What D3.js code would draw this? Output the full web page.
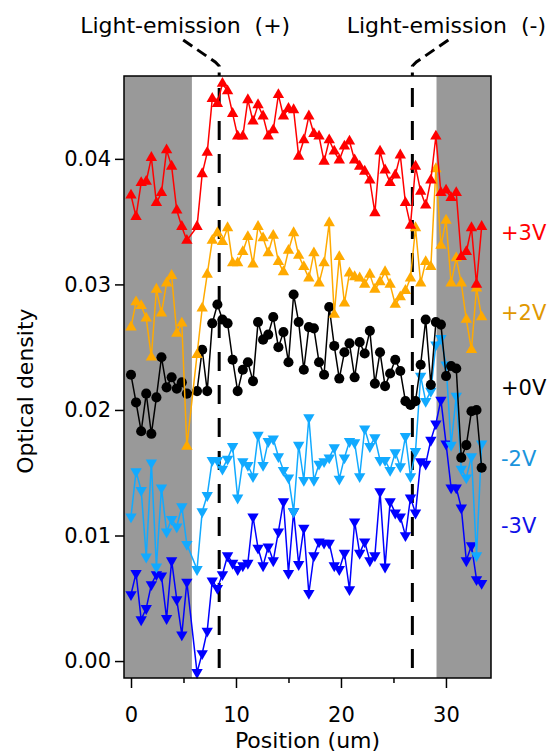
<!DOCTYPE html>
<meta charset="utf-8">
<style>
body { margin: 0; background: #fff; }
text { font-family: "DejaVu Sans", sans-serif; }
.line { fill: none; stroke-width: 1.5px; }
</style>
<body>
<div id="chart"></div>
<script src="https://d3js.org/d3.v7.min.js"></script>
<script>
// positions (um) of the samples (one sample missing at ~5.8 um)
var position = [0, 0.48, 0.97, 1.45, 1.94, 2.42, 2.90, 3.39, 3.87, 4.36, 4.84, 5.32,
  6.29, 6.78, 7.26, 7.74, 8.23, 8.71, 9.20, 9.68, 10.16, 10.65, 11.13, 11.62, 12.10, 12.58,
  13.07, 13.55, 14.04, 14.52, 15.00, 15.49, 15.97, 16.46, 16.94, 17.42, 17.91, 18.39, 18.88,
  19.36, 19.84, 20.33, 20.81, 21.30, 21.78, 22.26, 22.75, 23.23, 23.72, 24.20, 24.68, 25.17,
  25.65, 26.14, 26.62, 27.10, 27.59, 28.07, 28.56, 29.04, 29.52, 30.01, 30.49, 30.98, 31.46,
  31.94, 32.43, 32.91, 33.40];

var plus3V = [0.0371, 0.0354, 0.0381, 0.0382, 0.0401, 0.0365, 0.0373, 0.0407, 0.0394, 0.0359, 0.0346, 0.0335,
  0.0346, 0.0388, 0.0405, 0.0448, 0.0444, 0.0460, 0.0454, 0.0436, 0.0418, 0.0418, 0.0447, 0.0430, 0.0443,
  0.0434, 0.0418, 0.0423, 0.0451, 0.0434, 0.0440, 0.0439, 0.0402, 0.0415, 0.0434, 0.0420, 0.0418,
  0.0398, 0.0415, 0.0406, 0.0399, 0.0410, 0.0414, 0.0399, 0.0394, 0.0390, 0.0383, 0.0357, 0.0406,
  0.0391, 0.0381, 0.0387, 0.0403, 0.0365, 0.0347, 0.0394, 0.0374, 0.0363, 0.0383, 0.0418, 0.0373,
  0.0375, 0.0369, 0.0373, 0.0322, 0.0326, 0.0345, 0.0300, 0.0346];

var plus2V = [0.0266, 0.0286, 0.0283, 0.0273, 0.0242, 0.0296, 0.0277, 0.0301, 0.0307, 0.0261, 0.0269, 0.0171,
  0.0244, 0.0281, 0.0308, 0.0335, 0.0341, 0.0334, 0.0345, 0.0317, 0.0317, 0.0326, 0.0338, 0.0316, 0.0346,
  0.0337, 0.0325, 0.0339, 0.0318, 0.0310, 0.0327, 0.0341, 0.0323, 0.0314, 0.0305, 0.0325, 0.0301,
  0.0317, 0.0349, 0.0276, 0.0322, 0.0285, 0.0309, 0.0306, 0.0305, 0.0300, 0.0308, 0.0296, 0.0302,
  0.0310, 0.0300, 0.0284, 0.0290, 0.0295, 0.0305, 0.0345, 0.0301, 0.0318, 0.0314, 0.0392, 0.0331,
  0.0351, 0.0301, 0.0321, 0.0301, 0.0272, 0.0248, 0.0297, 0.0274];

var plus0V = [0.0228, 0.0206, 0.0183, 0.0213, 0.0181, 0.0210, 0.0242, 0.0218, 0.0226, 0.0217, 0.0222, 0.0213,
  0.0215, 0.0248, 0.0215, 0.0269, 0.0284, 0.0272, 0.0269, 0.0240, 0.0215, 0.0232, 0.0238, 0.0223, 0.0270,
  0.0256, 0.0260, 0.0274, 0.0250, 0.0262, 0.0238, 0.0292, 0.0270, 0.0232, 0.0266, 0.0265, 0.0238,
  0.0228, 0.0282, 0.0251, 0.0225, 0.0246, 0.0253, 0.0226, 0.0254, 0.0245, 0.0263, 0.0221, 0.0246,
  0.0219, 0.0229, 0.0240, 0.0231, 0.0207, 0.0204, 0.0207, 0.0236, 0.0272, 0.0220, 0.0270, 0.0268,
  0.0227, 0.0235, 0.0233, 0.0162, 0.0172, 0.0199, 0.0200, 0.0154];

var minus2V = [0.0115, 0.0151, 0.0136, 0.0083, 0.0158, 0.0075, 0.0138, 0.0103, 0.0113, 0.0107, 0.0123, 0.0093,
  0.0073, 0.0119, 0.0132, 0.0160, 0.0160, 0.0153, 0.0161, 0.0171, 0.0130, 0.0159, 0.0156, 0.0147, 0.0180,
  0.0156, 0.0175, 0.0177, 0.0163, 0.0152, 0.0146, 0.0119, 0.0172, 0.0144, 0.0194, 0.0144, 0.0157,
  0.0159, 0.0162, 0.0170, 0.0145, 0.0162, 0.0175, 0.0174, 0.0147, 0.0185, 0.0171, 0.0178, 0.0160,
  0.0160, 0.0152, 0.0166, 0.0155, 0.0179, 0.0147, 0.0167, 0.0227, 0.0207, 0.0215, 0.0252, 0.0257,
  0.0236, 0.0172, 0.0211, 0.0153, 0.0146, 0.0163, 0.0084, 0.0173];

var minus3V = [0.0053, 0.0070, 0.0033, 0.0042, 0.0061, 0.0069, 0.0068, 0.0034, 0.0080, 0.0049, 0.0021, 0.0063,
  -0.0009, 0.0006, 0.0024, 0.0064, 0.0058, 0.0069, 0.0084, 0.0078, 0.0073, 0.0076, 0.0078, 0.0115, 0.0090,
  0.0076, 0.0091, 0.0080, 0.0103, 0.0127, 0.0070, 0.0119, 0.0077, 0.0106, 0.0054, 0.0084, 0.0095,
  0.0094, 0.0094, 0.0076, 0.0073, 0.0086, 0.0057, 0.0111, 0.0086, 0.0095, 0.0080, 0.0084, 0.0135,
  0.0075, 0.0127, 0.0118, 0.0115, 0.0100, 0.0130, 0.0118, 0.0159, 0.0157, 0.0176, 0.0189, 0.0208,
  0.0173, 0.0138, 0.0138, 0.0122, 0.0080, 0.0092, 0.0065, 0.0062];

var seriesNames = ["-3V", "-2V", "+0V", "+2V", "+3V"];
var xTicks = [0, 10, 20, 30];
var xMinorTicks = [5, 15, 25];
var yTicks = [0, 0.01, 0.02, 0.03, 0.04];
var shaded = [[-1, 5.8], [29.1, 40]];      // electrode regions (um)
var emission = [8.4, 26.8];                // light-emission positions (um)

var series = [
  {name: seriesNames[0], values: minus3V, color: "#0000ff", text: "#1010e8", marker: "down", labelAt: 0.0102},
  {name: seriesNames[1], values: minus2V, color: "#12aaff", text: "#1a94dc", marker: "down", labelAt: 0.0155},
  {name: seriesNames[2], values: plus0V,  color: "#000000", text: "#000000", marker: "circle", labelAt: 0.0212},
  {name: seriesNames[3], values: plus2V,  color: "#ffaa00", text: "#e09800", marker: "up", labelAt: 0.0272},
  {name: seriesNames[4], values: plus3V,  color: "#ff0000", text: "#ff0000", marker: "up", labelAt: 0.0335}
];

var margin = {top: 76, right: 60, bottom: 75, left: 124},
    width = 551 - margin.left - margin.right,
    height = 753 - margin.top - margin.bottom;

var x = d3.scaleLinear().domain([-0.667, 34.29]).range([0, width]);
var y = d3.scaleLinear().domain([-0.00135, 0.0466]).range([height, 0]);

var svg = d3.select("#chart").append("svg")
    .attr("width", 551)
    .attr("height", 753)
  .append("g")
    .attr("transform", "translate(" + margin.left + "," + margin.top + ")");

// gray electrode regions
svg.selectAll(".shade")
    .data(shaded)
  .enter().append("rect")
    .attr("class", "shade")
    .attr("x", function(d) { return Math.max(0, x(d[0])); })
    .attr("width", function(d) { return Math.min(width, x(d[1])) - Math.max(0, x(d[0])); })
    .attr("y", 0)
    .attr("height", height)
    .style("fill", "#999999");

// dashed light-emission lines
svg.selectAll(".emit")
    .data(emission)
  .enter().append("line")
    .attr("class", "emit")
    .attr("x1", function(d) { return x(d); })
    .attr("x2", function(d) { return x(d); })
    .attr("y1", 0)
    .attr("y2", height)
    .style("stroke", "#000")
    .style("stroke-width", 3)
    .style("stroke-dasharray", "19,14")
    .style("stroke-dashoffset", 21);

// leaders up to the annotations
var leader = d3.line();
svg.selectAll(".leader")
    .data(emission)
  .enter().append("path")
    .attr("class", "leader")
    .attr("d", function(d, i) {
      var s = i === 0 ? -1 : 1, px = x(d);
      return leader([[px + s * 36, -36], [px + s * 4, -14], [px, -10], [px, 0]]);
    })
    .style("fill", "none")
    .style("stroke", "#000")
    .style("stroke-width", 3)
    .style("stroke-dasharray", "11,6");

svg.append("text")
    .attr("x", x(emission[0]) - 34)
    .attr("y", -43)
    .style("text-anchor", "middle")
    .style("white-space", "pre")
    .style("font-size", "22px")
    .text("Light-emission  (+)");
svg.append("text")
    .attr("x", x(emission[1]) + 34)
    .attr("y", -43)
    .style("text-anchor", "middle")
    .style("white-space", "pre")
    .style("font-size", "22px")
    .text("Light-emission  (-)");

// series lines and markers
var valueline = d3.line()
    .x(function(d, i) { return x(position[i]); })
    .y(function(d) { return y(d); });
var tri = d3.symbol().type(d3.symbolTriangle).size(56);
var dot = d3.symbol().type(d3.symbolCircle).size(80);

series.forEach(function(s) {
  svg.append("path")
      .datum(s.values)
      .attr("class", "line")
      .style("stroke", s.color)
      .attr("d", valueline);
  svg.selectAll(".m" + s.name.replace(/[^0-9a-z]/gi, ""))
      .data(s.values)
    .enter().append("path")
      .attr("d", s.marker === "circle" ? dot : tri)
      .attr("transform", function(d, i) {
        return "translate(" + x(position[i]) + "," + y(d) + ")" + (s.marker === "down" ? " rotate(180)" : "");
      })
      .style("fill", s.color);
  svg.append("text")
      .attr("x", width + 10)
      .attr("y", y(s.labelAt))
      .style("font-size", "21px")
      .style("fill", s.text)
      .text(s.name);
});

// frame
svg.append("rect")
    .attr("width", width)
    .attr("height", height)
    .style("fill", "none")
    .style("stroke", "#000")
    .style("stroke-width", 1.5);

// X axis
var xAxis = svg.append("g")
    .attr("transform", "translate(0," + height + ")")
    .call(d3.axisBottom(x).tickValues(xTicks).tickSize(10).tickPadding(19));
xAxis.select(".domain").remove();
var xMinor = svg.append("g")
    .attr("transform", "translate(0," + height + ")")
    .call(d3.axisBottom(x).tickValues(xMinorTicks).tickSize(5).tickFormat(""));
xMinor.select(".domain").remove();
svg.append("text")
    .attr("x", width / 2)
    .attr("y", height + 70)
    .style("text-anchor", "middle")
    .style("font-size", "22px")
    .text("Position (um)");

// Y axis
var yAxis = svg.append("g")
    .call(d3.axisLeft(y).tickValues(yTicks).tickSize(9).tickPadding(4).tickFormat(d3.format(".2f")));
yAxis.select(".domain").remove();
svg.append("text")
    .attr("transform", "rotate(-90)")
    .attr("x", 0 - y(0.0215))
    .attr("y", 33 - margin.left)
    .style("text-anchor", "middle")
    .style("font-size", "22px")
    .text("Optical density");

svg.selectAll(".tick line").style("stroke-width", 1.5);
svg.selectAll(".tick text").style("font-size", "21px").style("font-family", "DejaVu Sans, sans-serif");
</script>
</body>
